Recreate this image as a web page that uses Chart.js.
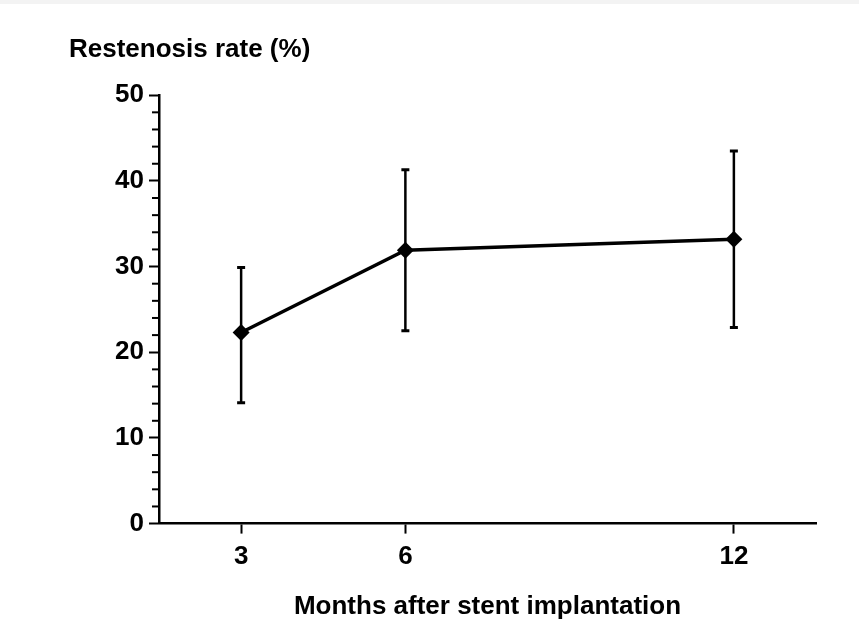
<!DOCTYPE html>
<html>
<head>
<meta charset="utf-8">
<script src="https://cdn.jsdelivr.net/npm/chart.js@4"></script>
<style>
  html, body { margin: 0; padding: 0; background: #fff; }
  #wrap { position: relative; width: 859px; height: 628px; }
  #topband { position: absolute; left: 0; top: 0; width: 859px; height: 4px; background: #f3f3f3; }
</style>
</head>
<body>
<div id="wrap">
  <canvas id="chart" width="859" height="628"></canvas>
  <div id="topband"></div>
</div>
<script>
// values
const months = [3, 6, 12];
const restenosisRate = [22.3, 31.9, 33.2];
const errUpper = [29.9, 41.3, 43.5];
const errLower = [14.1, 22.5, 22.9];
const xTickValues = [3, 6, 12];
const yMinorStep = 2;

const FONT = '"Liberation Sans", Arial, Helvetica, sans-serif';

// vertical error bars with small caps
const errorBars = {
  id: 'errorBars',
  beforeDatasetsDraw(chart) {
    const { ctx, scales: { x, y } } = chart;
    ctx.save();
    ctx.strokeStyle = '#000';
    months.forEach((m, i) => {
      const px = x.getPixelForValue(m);
      const top = y.getPixelForValue(errUpper[i]);
      const bot = y.getPixelForValue(errLower[i]);
      ctx.lineWidth = 2.5;
      ctx.beginPath();
      ctx.moveTo(px, top);
      ctx.lineTo(px, bot);
      ctx.stroke();
      ctx.lineWidth = 3;
      ctx.beginPath();
      ctx.moveTo(px - 4, top);
      ctx.lineTo(px + 4, top);
      ctx.moveTo(px - 4, bot);
      ctx.lineTo(px + 4, bot);
      ctx.stroke();
    });
    ctx.restore();
  }
};

// short minor ticks on the y axis every 2 units
const minorTicks = {
  id: 'minorTicks',
  afterDraw(chart) {
    const { ctx, scales: { y } } = chart;
    ctx.save();
    ctx.strokeStyle = '#000';
    ctx.lineWidth = 2;
    for (let v = y.min; v <= y.max; v += yMinorStep) {
      if (v % 10 === 0) continue;
      const py = y.getPixelForValue(v);
      ctx.beginPath();
      ctx.moveTo(y.right - 7, py);
      ctx.lineTo(y.right, py);
      ctx.stroke();
    }
    ctx.restore();
  }
};

new Chart(document.getElementById('chart'), {
  type: 'line',
  data: {
    datasets: [{
      data: months.map((m, i) => ({ x: m, y: restenosisRate[i] })),
      borderColor: '#000',
      borderWidth: 3.5,
      backgroundColor: '#000',
      pointStyle: 'rectRot',
      pointRadius: 8.5,
      pointBackgroundColor: '#000',
      pointBorderColor: '#000',
      pointBorderWidth: 0,
      tension: 0
    }]
  },
  options: {
    responsive: false,
    animation: false,
    layout: { padding: { left: 69, right: 43, top: 0, bottom: 0 } },
    plugins: {
      legend: { display: false },
      tooltip: { enabled: false },
      title: {
        display: true,
        text: 'Restenosis rate (%)',
        align: 'start',
        color: '#000',
        font: { family: FONT, size: 26, weight: 'bold' },
        padding: { top: 34, bottom: 30 }
      }
    },
    scales: {
      x: {
        type: 'linear',
        min: 1.5,
        max: 13.5,
        afterBuildTicks(scale) {
          scale.ticks = xTickValues.map(v => ({ value: v }));
        },
        grid: { drawOnChartArea: false, tickLength: 10, tickWidth: 2, tickColor: '#000' },
        border: { display: true, color: '#000', width: 2.5 },
        ticks: {
          color: '#000',
          padding: 8,
          maxRotation: 0,
          font: { family: FONT, size: 26, weight: 'bold' }
        },
        title: {
          display: true,
          text: 'Months after stent implantation',
          color: '#000',
          font: { family: FONT, size: 26, weight: 'bold' },
          padding: { top: 10, bottom: 6 }
        }
      },
      y: {
        min: 0,
        max: 50,
        afterFit(scale) { scale.width = 90; },
        grid: { drawOnChartArea: false, tickLength: 10, tickWidth: 2, tickColor: '#000' },
        border: { display: true, color: '#000', width: 2.5 },
        ticks: {
          stepSize: 10,
          color: '#000',
          padding: 5,
          font: { family: FONT, size: 26, weight: 'bold' }
        }
      }
    }
  },
  plugins: [errorBars, minorTicks]
});
</script>
</body>
</html>
